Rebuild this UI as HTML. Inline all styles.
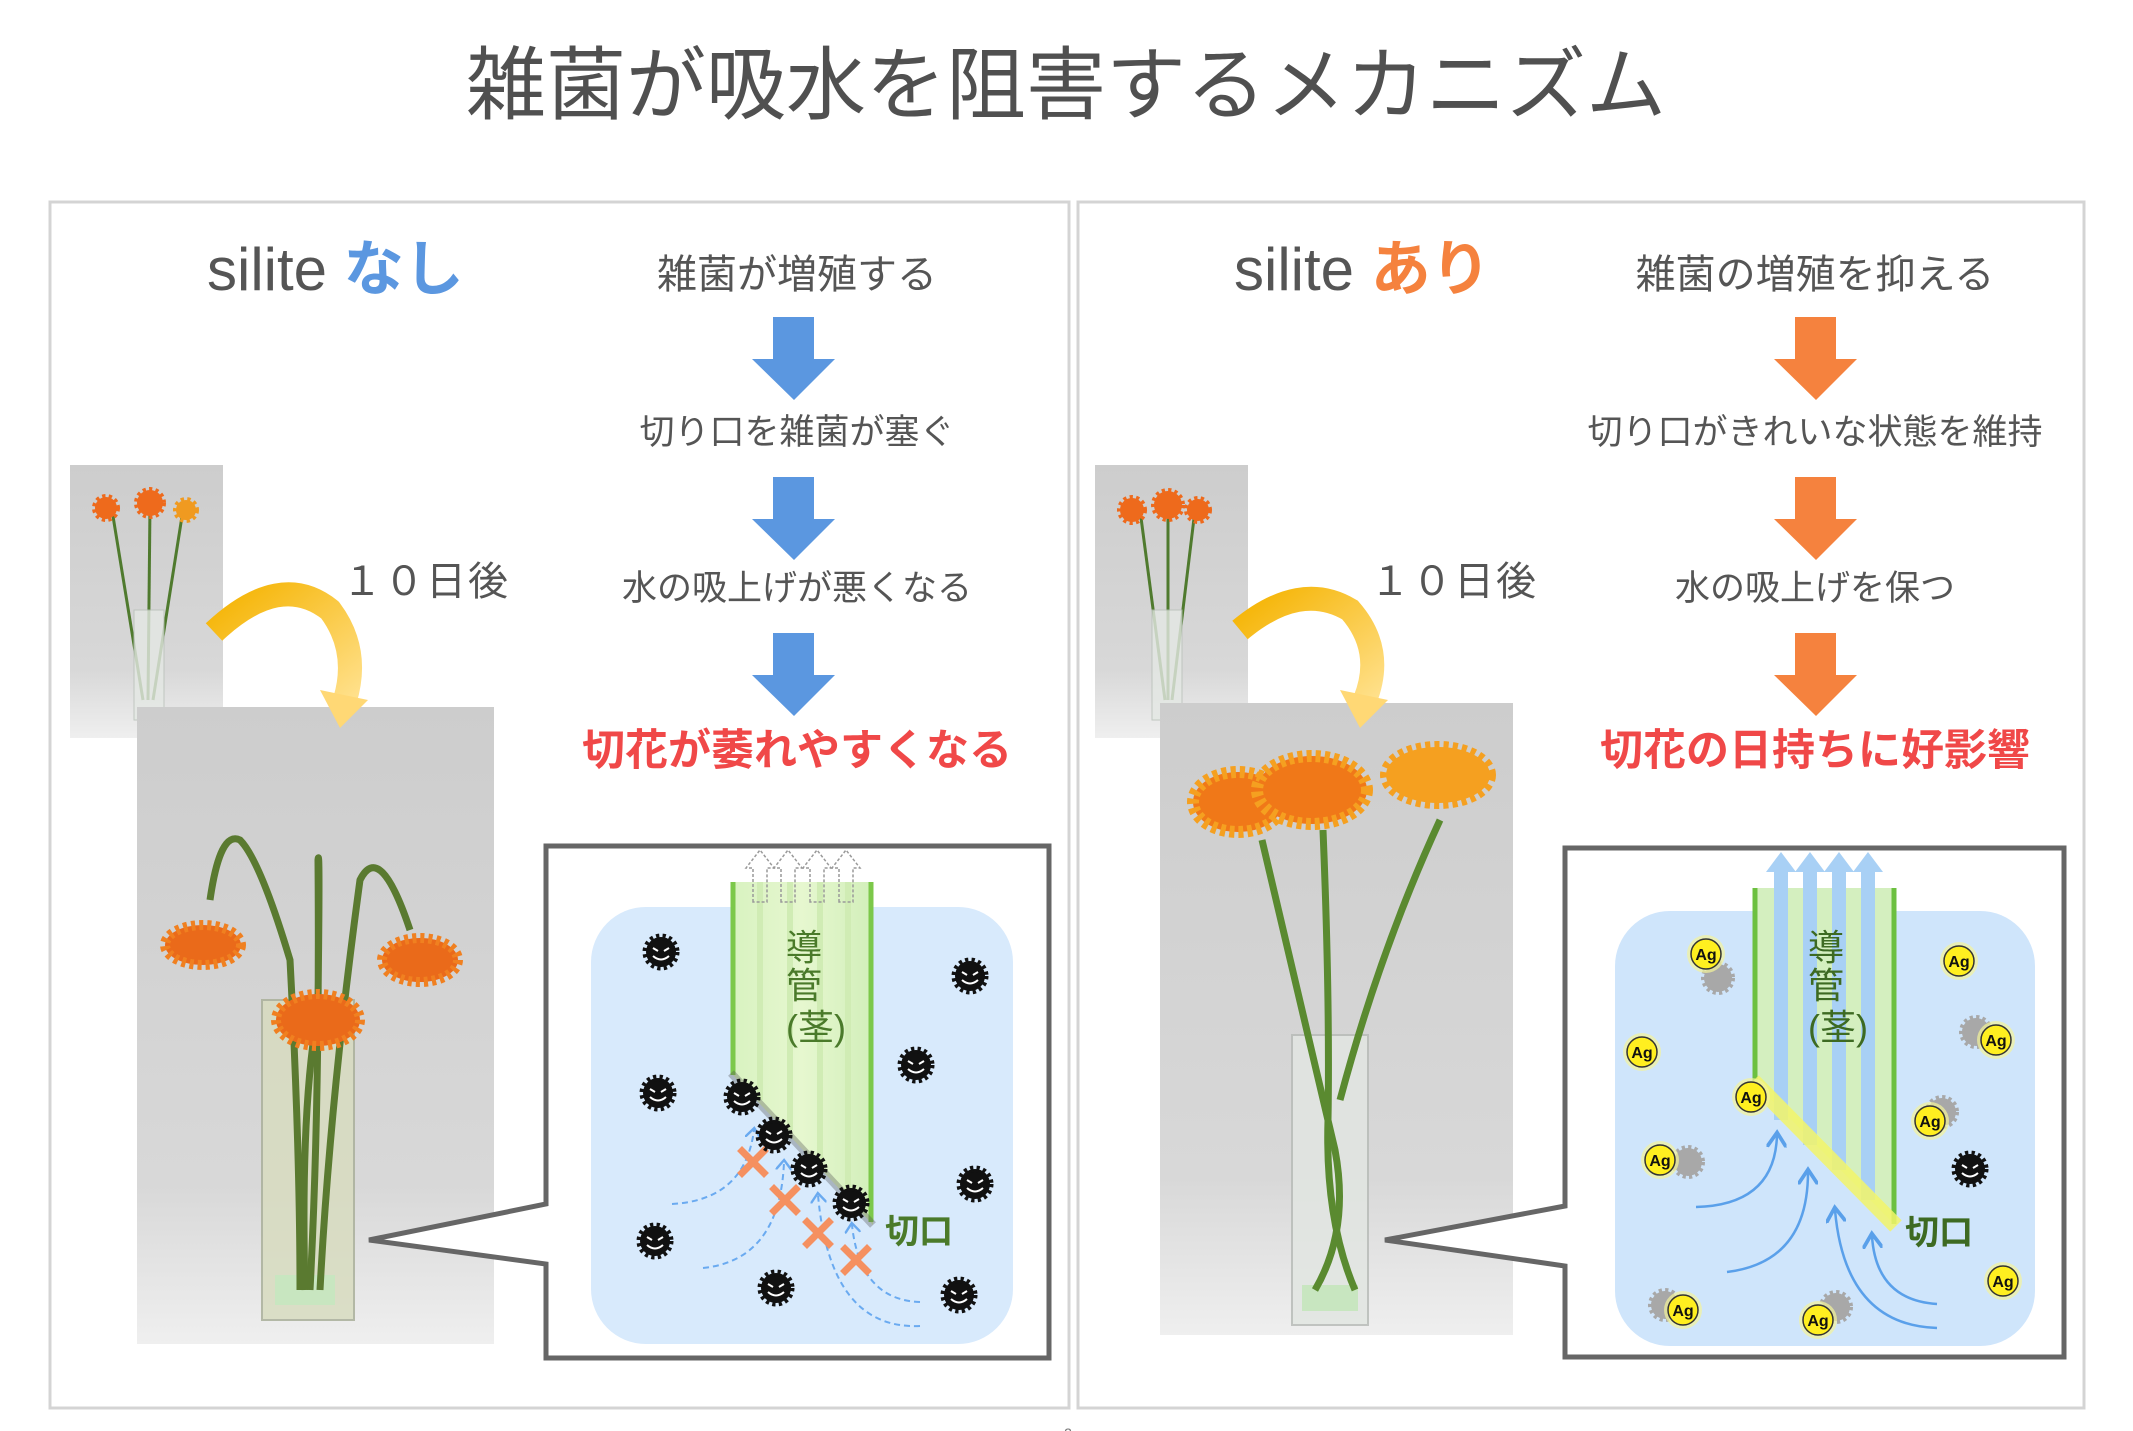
<!DOCTYPE html>
<html><head><meta charset="utf-8"><style>
html,body{margin:0;padding:0;background:#fff;}
svg{display:block;}
text{font-family:"Liberation Sans","Noto Sans CJK JP",sans-serif;}
</style></head><body>
<svg width="2133" height="1431" viewBox="0 0 2133 1431" xmlns="http://www.w3.org/2000/svg">
<defs>
<g id="bac">
<circle r="15" fill="#111" stroke="#111" stroke-width="7" stroke-dasharray="3 3"/>
<path d="M-8,-4 L-3,-1 M8,-4 L3,-1" stroke="#fff" stroke-width="2"/>
<path d="M-8,4 Q0,11 8,4" stroke="#fff" stroke-width="2" fill="none"/>
</g>
<g id="gbac">
<circle r="14" fill="#a8a8a8" stroke="#a8a8a8" stroke-width="6" stroke-dasharray="3 3"/>
</g>
<g id="ag">
<circle r="19" fill="#f4f49a" opacity="0.7"/>
<circle r="15" fill="#ffef20" stroke="#333" stroke-width="1.5"/>
<text x="0" y="6" font-size="16" font-weight="bold" text-anchor="middle" fill="#111">Ag</text>
</g>
<linearGradient id="photo" x1="0" y1="0" x2="0" y2="1">
<stop offset="0" stop-color="#cdcdcd"/><stop offset="0.75" stop-color="#d8d8d8"/><stop offset="1" stop-color="#efefef"/>
</linearGradient>
<linearGradient id="yarr" x1="0" y1="0" x2="1" y2="1">
<stop offset="0" stop-color="#f5b300"/><stop offset="1" stop-color="#ffe08a"/>
</linearGradient>
<linearGradient id="stem" x1="0" y1="0" x2="1" y2="0">
<stop offset="0" stop-color="#d8f2c0"/><stop offset="0.5" stop-color="#e6f7cf"/><stop offset="1" stop-color="#d2efba"/>
</linearGradient>
<marker id="dah" markerWidth="8" markerHeight="8" refX="4" refY="4" orient="auto"><path d="M0,0 L5,4 L0,8" fill="none" stroke="#6aaaf0" stroke-width="1.2"/></marker>
<marker id="sah" markerWidth="8" markerHeight="8" refX="5" refY="4" orient="auto"><path d="M0,0 L6,4 L0,8" fill="none" stroke="#5aa0ea" stroke-width="1.5"/></marker>
</defs>

<text x="1066" y="113" font-size="80" fill="#505050" text-anchor="middle">雑菌が吸水を阻害するメカニズム</text>

<rect x="50" y="202" width="1019" height="1206" fill="none" stroke="#d4d4d4" stroke-width="3"/>
<rect x="1078" y="202" width="1006" height="1206" fill="none" stroke="#d4d4d4" stroke-width="3"/>

<!-- LEFT headings -->
<text x="207" y="290" font-size="60" fill="#555">silite <tspan fill="#5b97e0" font-weight="bold">なし</tspan></text>
<text x="797" y="288" font-size="40" fill="#555" text-anchor="middle">雑菌が増殖する</text>
<g font-size="35" fill="#555" text-anchor="middle">
<text x="797" y="444">切り口を雑菌が塞ぐ</text>
<text x="797" y="600">水の吸上げが悪くなる</text>
</g>
<text x="797" y="765" font-size="43" font-weight="bold" fill="#f04848" text-anchor="middle">切花が萎れやすくなる</text>
<g fill="#5b97e0">
<polygon points="773,317 814,317 814,359 835,359 794,400 752,359 773,359"/>
<polygon points="773,477 814,477 814,519 835,519 794,560 752,519 773,519"/>
<polygon points="773,633 814,633 814,675 835,675 794,716 752,675 773,675"/>
</g>
<text x="342" y="595" font-size="40" fill="#555" letter-spacing="2">１０日後</text>

<!-- LEFT photos -->
<rect x="70" y="465" width="153" height="273" fill="url(#photo)"/>
<g stroke="#4f7a2e" stroke-width="3" fill="none">
<path d="M112,510 L143,700"/><path d="M150,505 L148,700"/><path d="M183,510 L153,700"/>
</g>
<rect x="134" y="610" width="30" height="110" fill="#e4e8e4" stroke="#b8c0b8" opacity="0.8"/>
<g fill="#ee6a1c" stroke="#ee6a1c" stroke-width="6" stroke-dasharray="3 3">
<circle cx="106" cy="508" r="11"/><circle cx="150" cy="503" r="13"/><circle cx="186" cy="510" r="10" fill="#f09a20" stroke="#f09a20"/>
</g>
<rect x="137" y="707" width="357" height="637" fill="url(#photo)"/>
<rect x="262" y="1000" width="92" height="320" fill="#d8dcc0" stroke="#aab09a" stroke-width="2" opacity="0.85"/>
<rect x="275" y="1275" width="60" height="30" fill="#c8e6c0"/>
<g stroke="#5a7a30" stroke-width="7" fill="none">
<path d="M300,1290 Q300,1150 290,960 Q260,860 240,840 Q220,830 210,900"/>
<path d="M310,1290 Q320,1100 318,860 Q320,840 318,1000"/>
<path d="M320,1290 Q330,1100 360,880 Q380,840 410,930"/>
<path d="M305,1290 Q300,1100 320,1000"/>
</g>
<g fill="#ea6a1a" stroke="#f08020" stroke-width="10" stroke-dasharray="4 4">
<ellipse cx="203" cy="945" rx="38" ry="20"/>
<ellipse cx="318" cy="1020" rx="42" ry="26"/>
<ellipse cx="420" cy="960" rx="38" ry="22"/>
</g>
<path d="M214,632 Q280,570 330,610 Q360,650 345,700" fill="none" stroke="url(#yarr)" stroke-width="24"/>
<polygon points="320,690 368,700 340,728" fill="#ffd875"/>

<!-- LEFT inset -->
<polygon points="546,846 1049,846 1049,1358 546,1358 546,1264 369,1240 546,1204" fill="#fff" stroke="#666" stroke-width="5"/>
<rect x="591" y="907" width="422" height="437" rx="55" fill="#d8eafc"/>
<polygon points="731,882 873,882 873,1225 731,1073" fill="url(#stem)"/>
<g stroke="#d0ecb4" stroke-width="6"><line x1="760" y1="882" x2="760" y2="1100"/><line x1="790" y1="882" x2="790" y2="1130"/><line x1="820" y1="882" x2="820" y2="1160"/><line x1="848" y1="882" x2="848" y2="1195"/></g>
<line x1="733" y1="882" x2="733" y2="1075" stroke="#7cc84a" stroke-width="5"/>
<line x1="871" y1="882" x2="871" y2="1222" stroke="#7cc84a" stroke-width="5"/>
<line x1="731" y1="1073" x2="873" y2="1225" stroke="#555" stroke-width="8" opacity="0.35"/>
<g fill="none" stroke="#999" stroke-width="1.5" stroke-dasharray="3 2">
<path d="M753,902 L753,868 L746,868 L760,850 L774,868 L767,868 L767,902 Z"/>
<path d="M781,902 L781,868 L774,868 L788,850 L802,868 L795,868 L795,902 Z"/>
<path d="M810,902 L810,868 L803,868 L817,850 L831,868 L824,868 L824,902 Z"/>
<path d="M839,902 L839,868 L832,868 L846,850 L860,868 L853,868 L853,902 Z"/>
</g>
<text font-size="36" fill="#4a7a2a"><tspan x="786" y="960">導</tspan><tspan x="786" y="998">管</tspan></text>
<text x="786" y="1040" font-size="36" fill="#4a7a2a">(茎)</text>
<text x="885" y="1243" font-size="34" fill="#4a7a2a" font-weight="bold">切口</text>
<g fill="none" stroke="#6aaaf0" stroke-width="2" stroke-dasharray="6 4" marker-end="url(#dah)">
<path d="M672,1204 Q745,1200 754,1130"/>
<path d="M703,1268 Q780,1260 784,1162"/>
<path d="M920,1326 Q830,1330 818,1195"/>
<path d="M920,1302 Q860,1300 852,1225"/>
</g>
<g stroke="#f59060" stroke-width="7" stroke-linecap="square">
<path d="M742,1151 L764,1173 M764,1151 L742,1173"/>
<path d="M774,1189 L796,1211 M796,1189 L774,1211"/>
<path d="M807,1222 L829,1244 M829,1222 L807,1244"/>
<path d="M845,1249 L867,1271 M867,1249 L845,1271"/>
</g>
<use href="#bac" x="661" y="952"/><use href="#bac" x="970" y="976"/><use href="#bac" x="916" y="1065"/>
<use href="#bac" x="658" y="1093"/><use href="#bac" x="742" y="1097"/><use href="#bac" x="774" y="1135"/>
<use href="#bac" x="809" y="1169"/><use href="#bac" x="851" y="1203"/><use href="#bac" x="975" y="1184"/>
<use href="#bac" x="655" y="1241"/><use href="#bac" x="776" y="1288"/><use href="#bac" x="959" y="1295"/>

<!-- RIGHT headings -->
<text x="1234" y="290" font-size="60" fill="#555">silite <tspan fill="#f5823e" font-weight="bold">あり</tspan></text>
<text x="1815" y="288" font-size="40" fill="#555" text-anchor="middle">雑菌の増殖を抑える</text>
<g font-size="35" fill="#555" text-anchor="middle">
<text x="1815" y="444">切り口がきれいな状態を維持</text>
<text x="1815" y="600">水の吸上げを保つ</text>
</g>
<text x="1815" y="765" font-size="43" font-weight="bold" fill="#f04848" text-anchor="middle">切花の日持ちに好影響</text>
<g fill="#f5823e">
<polygon points="1795,317 1836,317 1836,359 1857,359 1816,400 1774,359 1795,359"/>
<polygon points="1795,477 1836,477 1836,519 1857,519 1816,560 1774,519 1795,519"/>
<polygon points="1795,633 1836,633 1836,675 1857,675 1816,716 1774,675 1795,675"/>
</g>
<text x="1370" y="595" font-size="40" fill="#555" letter-spacing="2">１０日後</text>

<!-- RIGHT photos -->
<rect x="1095" y="465" width="153" height="273" fill="url(#photo)"/>
<g stroke="#4f7a2e" stroke-width="3" fill="none">
<path d="M1140,510 L1165,700"/><path d="M1168,505 L1168,700"/><path d="M1195,510 L1172,700"/>
</g>
<rect x="1152" y="610" width="30" height="110" fill="#e4e8e4" stroke="#b8c0b8" opacity="0.8"/>
<g fill="#ee6a1c" stroke="#ee6a1c" stroke-width="6" stroke-dasharray="3 3">
<circle cx="1132" cy="510" r="12"/><circle cx="1168" cy="505" r="14"/><circle cx="1198" cy="510" r="11"/>
</g>
<rect x="1160" y="703" width="353" height="632" fill="url(#photo)"/>
<rect x="1292" y="1035" width="76" height="290" fill="#e2e6e2" stroke="#b8bcb8" stroke-width="2" opacity="0.85"/>
<rect x="1302" y="1285" width="56" height="26" fill="#c8e6c0"/>
<g stroke="#5a8a30" stroke-width="7" fill="none">
<path d="M1262,840 Q1300,1000 1335,1150 Q1350,1230 1315,1290"/>
<path d="M1323,830 Q1330,1000 1328,1120 Q1325,1220 1355,1290"/>
<path d="M1440,820 Q1380,950 1340,1100"/>
</g>
<g fill="#f07818" stroke="#f5a020" stroke-width="12" stroke-dasharray="5 4">
<ellipse cx="1238" cy="802" rx="45" ry="30"/>
<ellipse cx="1312" cy="790" rx="55" ry="34"/>
<ellipse cx="1438" cy="775" rx="52" ry="28" fill="#f5a020"/>
</g>
<path d="M1240,630 Q1300,580 1350,610 Q1385,650 1365,700" fill="none" stroke="url(#yarr)" stroke-width="24"/>
<polygon points="1340,690 1388,700 1360,728" fill="#ffd875"/>

<!-- RIGHT inset -->
<polygon points="1565,848 2064,848 2064,1357 1565,1357 1565,1266 1385,1240 1565,1206" fill="#fff" stroke="#666" stroke-width="5"/>
<rect x="1615" y="911" width="420" height="435" rx="55" fill="#cfe5fb"/>
<polygon points="1753,888 1896,888 1896,1226 1753,1081" fill="#d4efbf"/>
<g fill="#a8d0f5">
<rect x="1774" y="870" width="14" height="250"/><rect x="1803" y="870" width="14" height="275"/>
<rect x="1832" y="870" width="14" height="300"/><rect x="1861" y="870" width="14" height="330"/>
<polygon points="1766,872 1781,852 1796,872"/><polygon points="1795,872 1810,852 1825,872"/>
<polygon points="1824,872 1839,852 1854,872"/><polygon points="1853,872 1868,852 1883,872"/>
</g>
<line x1="1755" y1="888" x2="1755" y2="1082" stroke="#6cc040" stroke-width="5"/>
<line x1="1894" y1="888" x2="1894" y2="1224" stroke="#6cc040" stroke-width="5"/>
<line x1="1753" y1="1081" x2="1896" y2="1226" stroke="#f3f56a" stroke-width="16" opacity="0.85"/>
<text font-size="36" fill="#3d6a22"><tspan x="1808" y="960">導</tspan><tspan x="1808" y="998">管</tspan></text>
<text x="1808" y="1040" font-size="36" fill="#3d6a22">(茎)</text>
<text x="1905" y="1244" font-size="34" fill="#3d6a22" font-weight="bold">切口</text>
<g fill="none" stroke="#5aa0ea" stroke-width="2.5" marker-end="url(#sah)">
<path d="M1696,1207 Q1775,1205 1777,1135"/>
<path d="M1727,1272 Q1808,1262 1808,1172"/>
<path d="M1937,1328 Q1845,1325 1835,1210"/>
<path d="M1937,1304 Q1876,1300 1872,1236"/>
</g>
<use href="#gbac" x="1718" y="978"/><use href="#gbac" x="1976" y="1032"/><use href="#gbac" x="1942" y="1112"/>
<use href="#gbac" x="1688" y="1162"/><use href="#gbac" x="1665" y="1305"/><use href="#gbac" x="1836" y="1307"/>
<use href="#ag" x="1706" y="954"/><use href="#ag" x="1959" y="961"/><use href="#ag" x="1642" y="1052"/>
<use href="#ag" x="1996" y="1040"/><use href="#ag" x="1751" y="1097"/><use href="#ag" x="1930" y="1121"/>
<use href="#ag" x="1660" y="1160"/><use href="#ag" x="2003" y="1281"/><use href="#ag" x="1683" y="1310"/>
<use href="#ag" x="1818" y="1320"/>
<use href="#bac" x="1970" y="1169"/>

<text x="1068" y="1438" font-size="14" fill="#777" text-anchor="middle">2</text>
</svg>
</body></html>
